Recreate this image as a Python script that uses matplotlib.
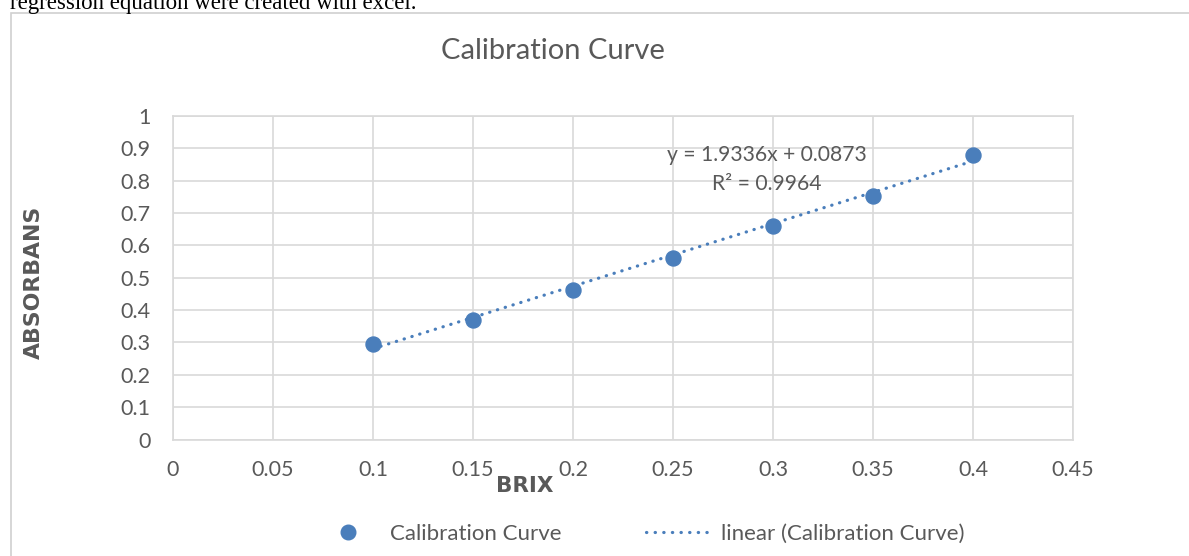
import matplotlib
matplotlib.use("Agg")
import matplotlib.pyplot as plt
from matplotlib.patches import Rectangle
from matplotlib.lines import Line2D
import numpy as np

brix = [0.1, 0.15, 0.2, 0.25, 0.3, 0.35, 0.4]
absorbans = [0.295, 0.370, 0.462, 0.562, 0.660, 0.752, 0.878]
slope = 1.9336
intercept = 0.0873
r2 = 0.9964
x_ticks = [0, 0.05, 0.1, 0.15, 0.2, 0.25, 0.3, 0.35, 0.4, 0.45]
y_ticks = [0, 0.1, 0.2, 0.3, 0.4, 0.5, 0.6, 0.7, 0.8, 0.9, 1]

W, H = 1189, 556
fig = plt.figure(figsize=(W / 100, H / 100), dpi=100)
plt.rcParams['font.family'] = ['Lato', 'DejaVu Sans']

blue = '#4a7ebb'
gray = '#595959'
grid = '#d9d9d9'
dots = (0, (0.1, 2.45))

# chart frame (partially cropped)
fig.patches.append(Rectangle((11 / W, -0.1), 1.2, 1 - 12.5 / H + 0.1, transform=fig.transFigure,
                             fill=False, edgecolor='#d0d0d0', lw=1.2))
# cropped document text on top
fig.text(10 / W, 1 - 9.5 / H, 'regression equation were created with excel.', family='Liberation Serif',
         fontsize=16.5, color='black', va='baseline', ha='left')

ax = fig.add_axes([173 / W, 1 - 439.5 / H, (1073 - 173) / W, (439.5 - 116) / H])
ax.set_xlim(0, 0.45)
ax.set_ylim(0, 1)
ax.set_xticks(x_ticks)
ax.set_yticks(y_ticks)
ax.set_xticklabels([f'{v:g}' for v in x_ticks])
ax.set_yticklabels([f'{v:g}' for v in y_ticks])
ax.grid(True, color=grid, lw=1.2)
ax.set_axisbelow(True)
for s in ax.spines.values():
    s.set_color(grid)
    s.set_linewidth(1.2)
ax.tick_params(length=0, labelsize=15.5, colors=gray)
ax.tick_params(axis='y', pad=16)
ax.tick_params(axis='x', pad=15)

xs = np.array([brix[0], brix[-1]])
ax.plot(xs, slope * xs + intercept, color=blue, lw=2.3, linestyle=dots,
        dash_capstyle='round', zorder=2)
ax.plot(brix, absorbans, 'o', color=blue, ms=10.8, zorder=3)

ax.text(0.297, 0.878, f'y = {slope}x + {intercept}', ha='center', va='center', fontsize=15.2, color=gray)
ax.text(0.297, 0.791, f'R² = {r2}', ha='center', va='center', fontsize=15.2, color=gray)

fig.text(553 / W, 1 - 51 / H, 'Calibration Curve', ha='center', va='center', fontsize=21, color=gray)
fig.text(525 / W, 1 - 486 / H, 'BRIX', ha='center', va='center', fontsize=15.5,
         fontweight='heavy', family='DejaVu Sans', color=gray)
fig.text(33.5 / W, 1 - 282.5 / H, 'ABSORBANS', ha='center', va='center', rotation=90, fontsize=15.8,
         fontweight='heavy', family='DejaVu Sans', color=gray)

handles = [Line2D([], [], marker='o', ls='none', color=blue, ms=10.5),
           Line2D([], [], color=blue, lw=2.3, linestyle=(0, (0.1, 2.6)), dash_capstyle='round')]
leg = fig.legend(handles, ['Calibration Curve', 'linear (Calibration Curve)'], ncol=2,
                 loc='center', bbox_to_anchor=(639.5 / W, 1 - 533.5 / H), frameon=False,
                 fontsize=16, handlelength=3.0, columnspacing=3.8, handletextpad=0.4)
for t in leg.get_texts():
    t.set_color(gray)

fig.savefig('out.png', dpi=100)
